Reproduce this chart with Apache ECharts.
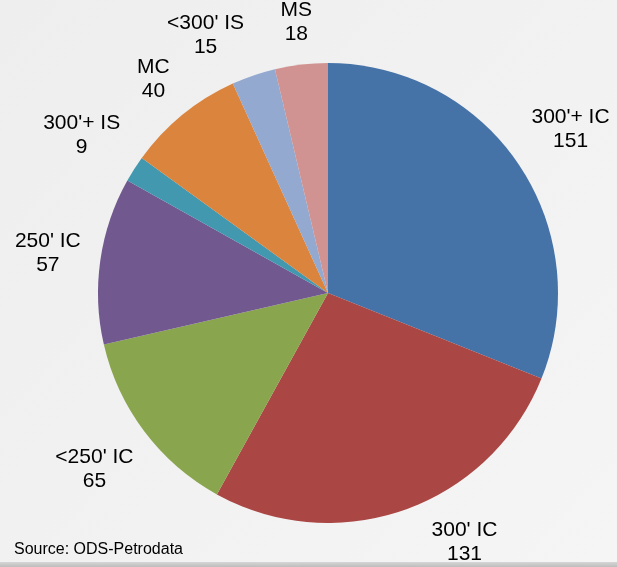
<!DOCTYPE html>
<html><head><meta charset="utf-8">
<script src="https://cdn.jsdelivr.net/npm/echarts@6/dist/echarts.min.js"></script>
<style>html,body{margin:0;padding:0;}#c{width:617px;height:567px;}</style>
</head><body><div id="c"></div>
<script>
var categories = ["300'+ IC", "300' IC", "<250' IC", "250' IC", "300'+ IS", "MC", "<300' IS", "MS"];
var values = [151, 131, 65, 57, 9, 40, 15, 18];
var colors = ['#4572A7', '#AA4643', '#89A54E', '#71588F', '#4198AF', '#DB843D', '#93A9CF', '#D19392'];
var sourceText = 'Source: ODS-Petrodata';

var W = 617, H = 567;
var CX = 328, CY = 293, R = 230, GAP = 17;
var FONT_SIZE = 21, LINE_H = 24, FONT = FONT_SIZE + 'px "Liberation Sans", Arial, sans-serif';
var MIN_SIDE_GAP = 36;

var data = categories.map(function (c, i) {
  return { name: c, value: values[i], itemStyle: { color: colors[i] } };
});

var total = values.reduce(function (a, b) { return a + b; }, 0);
var ctx = document.createElement('canvas').getContext('2d');
ctx.font = FONT;

function placeAt(theta, w, h) {
  var ux = Math.sin(theta), uy = -Math.cos(theta);
  var d = R + GAP + (w / 2) * Math.abs(ux) + (h / 2) * Math.abs(uy);
  return { x: CX + d * ux, y: CY + d * uy };
}
function clampInside(L) {
  var steps = 0;
  var p = placeAt(L.theta, L.w, L.h);
  while ((p.y + L.h / 2 > H - 1 || p.y - L.h / 2 < -4) && steps < 400) {
    var target = Math.sin(L.theta) >= 0 ? Math.PI / 2 : 3 * Math.PI / 2;
    L.theta += (target > L.theta ? 1 : -1) * 0.003;
    p = placeAt(L.theta, L.w, L.h);
    steps++;
  }
  L.x = p.x; L.y = p.y;
}

// label boxes: start at the slice mid-angle, just outside the pie
var labels = [];
(function () {
  var acc = 0;
  for (var i = 0; i < values.length; i++) {
    var lines = [categories[i], String(values[i])];
    var w = Math.max.apply(null, lines.map(function (t) { return ctx.measureText(t).width; }));
    var L = { theta: (acc + values[i] / 2) / total * 2 * Math.PI, w: w, h: lines.length * LINE_H };
    clampInside(L);
    labels.push(L);
    acc += values[i];
  }
  // labels sitting side by side keep a minimum horizontal gap; the smaller slice moves away
  for (var k = 0; k < labels.length - 1; k++) {
    var a = labels[k], b = labels[k + 1];
    var mover = values[k] <= values[k + 1] ? a : b;
    var dir = mover === a ? -1 : 1;
    var n = 0;
    while (n < 400) {
      var vOverlap = Math.min(a.y + a.h / 2, b.y + b.h / 2) - Math.max(a.y - a.h / 2, b.y - b.h / 2);
      var left = a.x < b.x ? a : b, right = left === a ? b : a;
      var hGap = (right.x - right.w / 2) - (left.x + left.w / 2);
      if (!(vOverlap > a.h / 2 && hGap < MIN_SIDE_GAP)) break;
      mover.theta += dir * 0.003;
      var p = placeAt(mover.theta, mover.w, mover.h);
      mover.x = p.x; mover.y = p.y;
      n++;
    }
  }
})();

function labelLayout(params) {
  var L = labels[params.dataIndex];
  return { x: L.x, y: L.y, align: 'center', verticalAlign: 'middle', hideOverlap: false, moveOverlap: null };
}

var chart = echarts.init(document.getElementById('c'));
chart.setOption({
  backgroundColor: {
    type: 'linear', x: 0, y: 0, x2: 1, y2: 1,
    colorStops: [{ offset: 0, color: '#eeeeee' }, { offset: 1, color: '#f5f5f5' }]
  },
  animation: false,
  series: [
    {
      type: 'pie',
      center: [CX, CY],
      radius: [0, R],
      startAngle: 90,
      clockwise: true,
      silent: true,
      avoidLabelOverlap: false,
      labelLine: { show: false },
      label: {
        show: true,
        position: 'inside',
        formatter: '{b}\n{c}',
        color: '#000',
        fontFamily: '"Liberation Sans", Arial, sans-serif',
        fontSize: FONT_SIZE,
        lineHeight: LINE_H,
        align: 'center'
      },
      labelLayout: labelLayout,
      itemStyle: { borderWidth: 0 },
      data: data
    }
  ],
  graphic: [
    {
      type: 'text', left: 14, top: 542,
      style: { text: sourceText, fill: '#000', font: '16px "Liberation Sans", Arial, sans-serif' }
    },
    {
      type: 'rect', left: 0, top: 562, z: 100,
      shape: { width: 617, height: 5 },
      style: {
        fill: { type: 'linear', x: 0, y: 0, x2: 0, y2: 1,
          colorStops: [{ offset: 0, color: '#d6d6d6' }, { offset: 1, color: '#bdbdbd' }] }
      }
    }
  ]
});
</script>
</body></html>
